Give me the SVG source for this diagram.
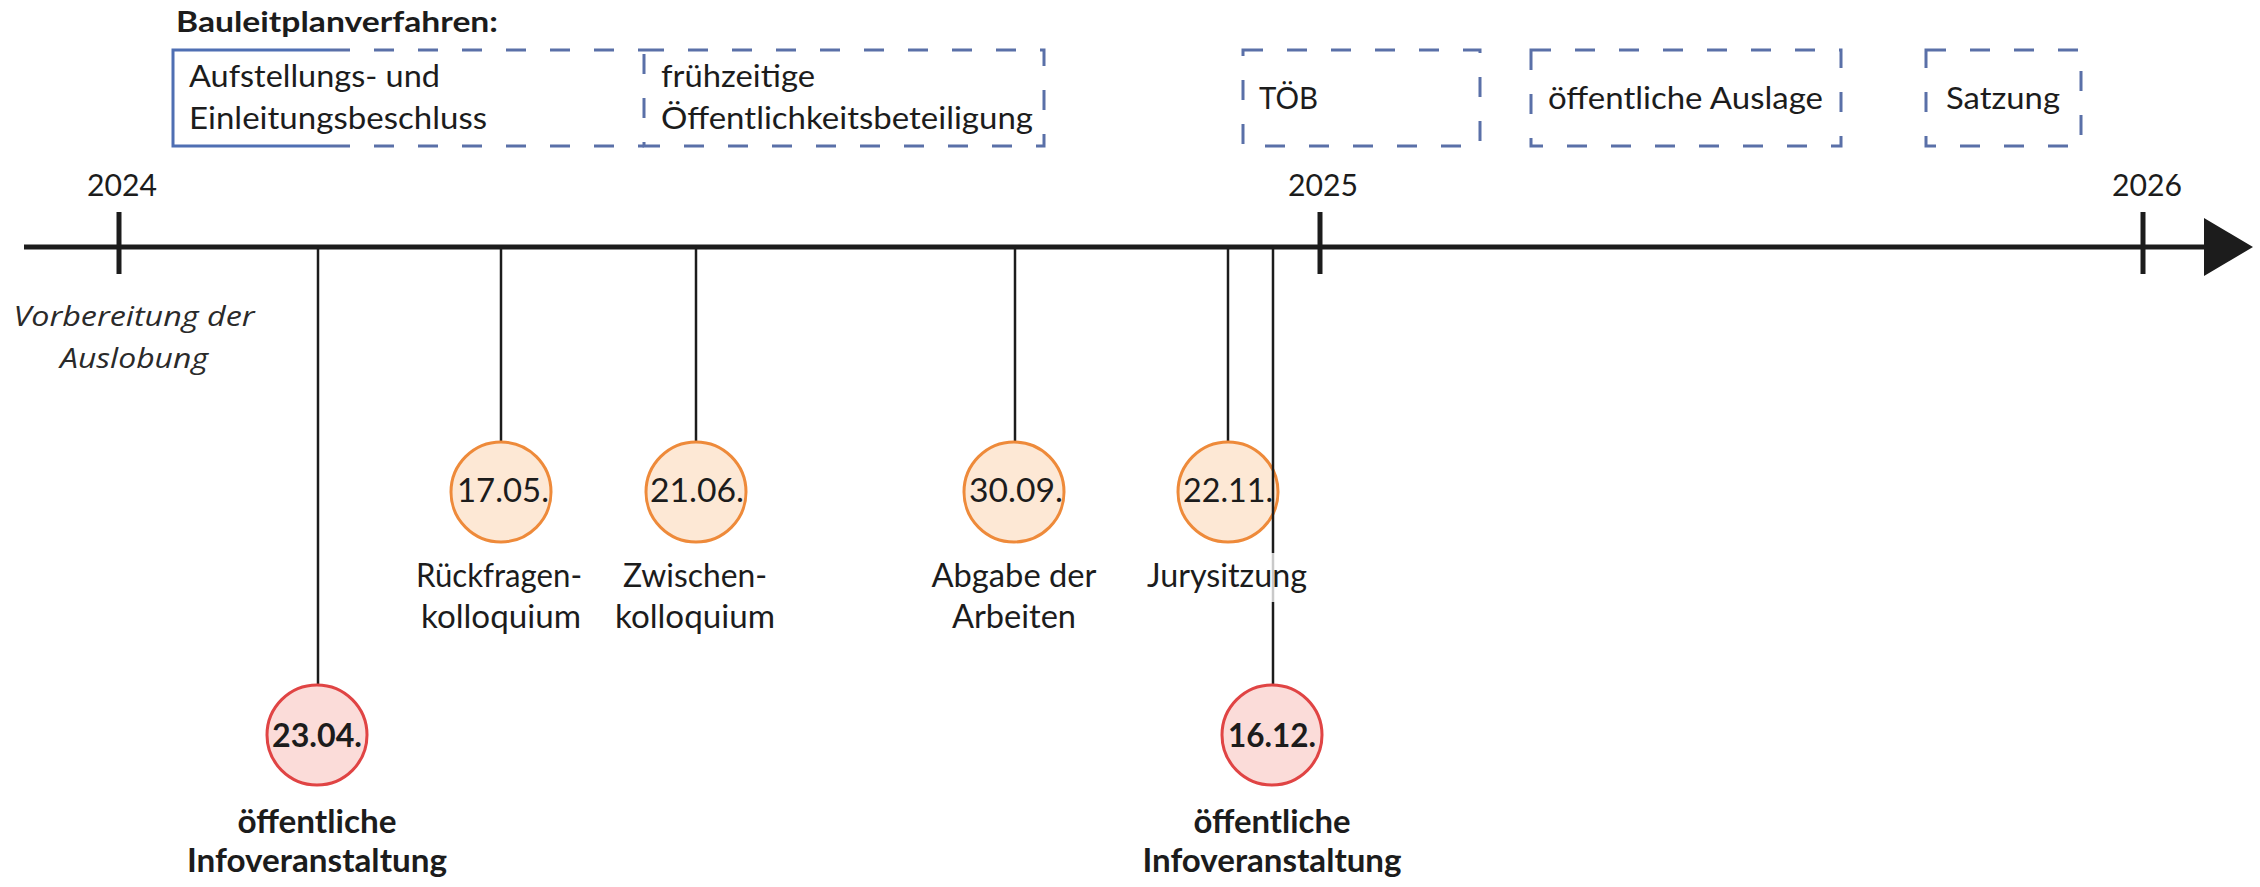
<svg xmlns="http://www.w3.org/2000/svg" width="2260" height="887" viewBox="0 0 2260 887">
  <style>
    text { font-family: Lato, "Liberation Sans", sans-serif; fill: #1c1c1c; }
    .title { font-size: 28px; font-weight: 700; }
    .box { font-size: 31px; }
    .year { font-size: 31px; text-anchor: middle; }
    .note { font-family: "Open Sans", Lato, sans-serif; font-size: 28px; font-style: italic; text-anchor: middle; fill: #2a2a2a; }
    .date { font-size: 33px; text-anchor: middle; }
    .dateb { font-size: 33px; font-weight: 700; text-anchor: middle; }
    .lbl { font-size: 32px; text-anchor: middle; }
    .lblb { font-size: 33px; font-weight: 700; text-anchor: middle; }
    .dash { fill: none; stroke: #5a70a8; stroke-width: 3; stroke-dasharray: 20 24; }
    .solid { fill: none; stroke: #4f6fb3; stroke-width: 3; }
    .orange { fill: #fde8d5; stroke: #ee8a3a; stroke-width: 3; }
    .red { fill: #fbdcd9; stroke: #e04444; stroke-width: 3; }
    .stem { stroke: #1c1c1c; stroke-width: 2.5; }
    .tick { stroke: #1c1c1c; stroke-width: 5; }
  </style>

  <!-- header -->
  <text class="title" x="176" y="32" textLength="322" lengthAdjust="spacingAndGlyphs">Bauleitplanverfahren:</text>

  <!-- planning procedure phases -->
  <g id="phase-aufstellung">
    <polyline class="solid" points="330,50 173,50 173,146 330,146"/>
    <line class="dash" x1="330" y1="50" x2="644" y2="50"/>
    <line class="dash" x1="330" y1="146" x2="644" y2="146"/>
    <text class="box" x="189" y="87" textLength="251" lengthAdjust="spacingAndGlyphs">Aufstellungs- und</text>
    <text class="box" x="189" y="129" textLength="298" lengthAdjust="spacingAndGlyphs">Einleitungsbeschluss</text>
  </g>
  <g id="phase-fruehzeitig">
    <path class="dash" d="M644,50 H1044 V146 H644 Z"/>
    <text class="box" x="661" y="87" textLength="154" lengthAdjust="spacingAndGlyphs">frühzeitige</text>
    <text class="box" x="661" y="129" textLength="372" lengthAdjust="spacingAndGlyphs">Öffentlichkeitsbeteiligung</text>
  </g>
  <g id="phase-toeb">
    <rect class="dash" x="1243" y="50" width="237" height="96"/>
    <text class="box" x="1259" y="109" textLength="59" lengthAdjust="spacingAndGlyphs">TÖB</text>
  </g>
  <g id="phase-auslage">
    <rect class="dash" x="1531" y="50" width="310" height="96"/>
    <text class="box" x="1548" y="109" textLength="275" lengthAdjust="spacingAndGlyphs">öffentliche Auslage</text>
  </g>
  <g id="phase-satzung">
    <rect class="dash" x="1926" y="50" width="155" height="96"/>
    <text class="box" x="1946" y="109" textLength="114" lengthAdjust="spacingAndGlyphs">Satzung</text>
  </g>

  <!-- time axis -->
  <g id="axis">
    <line x1="24" y1="247" x2="2206" y2="247" stroke="#1c1c1c" stroke-width="5"/>
    <polygon points="2204,218 2253,247 2204,276" fill="#1c1c1c"/>
    <line class="tick" x1="119" y1="212" x2="119" y2="274"/>
    <line class="tick" x1="1320" y1="212" x2="1320" y2="274"/>
    <line class="tick" x1="2143" y1="212" x2="2143" y2="274"/>
    <text class="year" x="122" y="196" textLength="70" lengthAdjust="spacingAndGlyphs">2024</text>
    <text class="year" x="1323" y="196" textLength="70" lengthAdjust="spacingAndGlyphs">2025</text>
    <text class="year" x="2147" y="196" textLength="70" lengthAdjust="spacingAndGlyphs">2026</text>
  </g>

  <g id="vorbereitung">
    <text class="note" x="134" y="326" textLength="241" lengthAdjust="spacingAndGlyphs">Vorbereitung der</text>
    <text class="note" x="134" y="368" textLength="148" lengthAdjust="spacingAndGlyphs">Auslobung</text>
  </g>

  <!-- stems from the axis down to the milestones -->
  <g id="connectors">
    <line class="stem" x1="318" y1="249" x2="318" y2="685"/>
    <line class="stem" x1="501" y1="249" x2="501" y2="442"/>
    <line class="stem" x1="696" y1="249" x2="696" y2="442"/>
    <line class="stem" x1="1015" y1="249" x2="1015" y2="442"/>
    <line class="stem" x1="1228" y1="249" x2="1228" y2="442"/>
  </g>

  <!-- milestones -->
  <g id="m-2304">
    <circle class="red" cx="317" cy="735" r="50"/>
    <text class="dateb" x="317" y="747" textLength="90" lengthAdjust="spacingAndGlyphs">23.04.</text>
    <text class="lblb" x="317" y="833" textLength="159" lengthAdjust="spacingAndGlyphs">öffentliche</text>
    <text class="lblb" x="317" y="872" textLength="260" lengthAdjust="spacingAndGlyphs">Infoveranstaltung</text>
  </g>
  <g id="m-1705">
    <circle class="orange" cx="501" cy="492" r="50"/>
    <text class="date" x="503" y="502" textLength="92" lengthAdjust="spacingAndGlyphs">17.05.</text>
    <text class="lbl" x="499" y="587" textLength="166" lengthAdjust="spacingAndGlyphs">Rückfragen-</text>
    <text class="lbl" x="501" y="628" textLength="160" lengthAdjust="spacingAndGlyphs">kolloquium</text>
  </g>
  <g id="m-2106">
    <circle class="orange" cx="696" cy="492" r="50"/>
    <text class="date" x="697" y="502" textLength="94" lengthAdjust="spacingAndGlyphs">21.06.</text>
    <text class="lbl" x="695" y="587" textLength="144" lengthAdjust="spacingAndGlyphs">Zwischen-</text>
    <text class="lbl" x="695" y="628" textLength="160" lengthAdjust="spacingAndGlyphs">kolloquium</text>
  </g>
  <g id="m-3009">
    <circle class="orange" cx="1014" cy="492" r="50"/>
    <text class="date" x="1016" y="502" textLength="94" lengthAdjust="spacingAndGlyphs">30.09.</text>
    <text class="lbl" x="1014" y="587" textLength="165" lengthAdjust="spacingAndGlyphs">Abgabe der</text>
    <text class="lbl" x="1014" y="628" textLength="124" lengthAdjust="spacingAndGlyphs">Arbeiten</text>
  </g>
  <g id="m-2211">
    <circle class="orange" cx="1228" cy="492" r="50"/>
    <text class="date" x="1228" y="502" textLength="90" lengthAdjust="spacingAndGlyphs">22.11.</text>
  </g>

  <!-- the 16.12. stem runs over the 22.11. marker -->
  <g id="connector-1612">
    <line class="stem" x1="1273" y1="249" x2="1273" y2="553"/>
    <line x1="1273" y1="553" x2="1273" y2="602" stroke="#c9c9c9" stroke-width="2.5"/>
    <line class="stem" x1="1273" y1="602" x2="1273" y2="685"/>
  </g>

  <g id="m-2211-label">
    <text class="lbl" x="1227" y="587" textLength="160" lengthAdjust="spacingAndGlyphs">Jurysitzung</text>
  </g>
  <g id="m-1612">
    <circle class="red" cx="1272" cy="735" r="50"/>
    <text class="dateb" x="1272" y="747" textLength="88" lengthAdjust="spacingAndGlyphs">16.12.</text>
    <text class="lblb" x="1272" y="833" textLength="157" lengthAdjust="spacingAndGlyphs">öffentliche</text>
    <text class="lblb" x="1272" y="872" textLength="259" lengthAdjust="spacingAndGlyphs">Infoveranstaltung</text>
  </g>
</svg>
